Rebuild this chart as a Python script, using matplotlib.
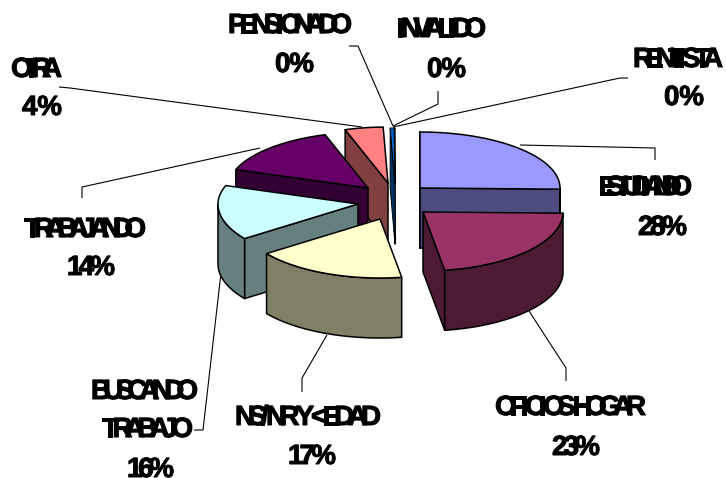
import numpy as np
import matplotlib
matplotlib.use("Agg")
import matplotlib.pyplot as plt
import matplotlib.text as mtext
import matplotlib.patheffects as pe
from matplotlib.patches import Polygon
from matplotlib.transforms import Bbox, IdentityTransform

# ---- data ----
categories = ["ESTUDIANDO", "OFICIOS HOGAR", "NS/NR Y <EDAD", "BUSCANDO\nTRABAJO", "TRABAJANDO",
              "OTRA", "PENSIONADO", "INVALIDO", "RENTISTA"]
percent_labels = ["28%", "23%", "17%", "16%", "14%", "4%", "0%", "0%", "0%"]
slice_shares = [25.3, 22.2, 17.5, 15.3, 14.7, 4.4, 0.45, 0.05, 0.05]

# ---- styles and layout (pixels of the 726x478 canvas) ----
top_colors = ["#9999FF", "#993366", "#FFFFCC", "#CCFFFF", "#660066", "#FF8080", "#0066CC", "#CCCCFF", "#000080"]
side_colors = ["#4C4C80", "#4D1A33", "#808066", "#668080", "#330033", "#804040", "#003366", "#666680", "#000040"]
explode_x = [29, 32, -11, -33, -23, -3, 4, 4, 4]
explode_y = [-2, 22, 29, 14, -2, -7, -6, -6, -6]
draw_order = [8, 7, 6, 5, 4, 0, 3, 2, 1]
CX, CY, RX, RY_BACK, RY_FRONT, DEPTH = 391, 190, 140, 56, 59, 60

# name lines: (left, right, baseline) per line of each category
name_boxes = [[(598, 692, 195)], [(495, 646, 415)], [(235, 381, 425)],
              [(91, 198, 399), (102, 193, 437)], [(24, 146, 237)],
              [(11, 62, 77)], [(228, 352, 33)], [(396, 486, 37)], [(633, 723, 67)]]
pct_boxes = [(638, 687, 235), (552, 600, 455), (288, 336, 464), (127, 174, 477), (67, 115, 275),
             (22, 62, 115), (275, 314, 72), (427, 466, 77), (664, 704, 105)]
leaders = [[(520, 145), (655, 148), (655, 160)],
           [(529, 311), (566, 368), (566, 381)],
           [(327, 335), (302, 378), (302, 392)],
           [(221, 273), (203, 430), (194, 430)],
           [(260, 148), (82, 187), (82, 198)],
           [(59, 87), (70, 88), (362, 127)],
           [(349, 46), (358, 46), (393, 126)],
           [(438, 91), (438, 104), (393, 126)],
           [(628, 78), (620, 78), (393, 127)]]

FONT = dict(family="Liberation Sans", weight="bold", size=20)


class FittedText(mtext.Text):
    """One text whose glyphs are packed tightly to fill a given pixel width."""

    def __init__(self, x, y, s, fit_width, **kw):
        super().__init__(x, y, s, **kw)
        self.fit_width = fit_width

    def _layout_chars(self, renderer):
        fp = self.get_fontproperties()
        s = self.get_text()
        w = []
        for ch in s:
            probe = "n" if ch == " " else ch
            wi = renderer.get_text_width_height_descent(probe, fp, False)[0]
            w.append(wi * 0.25 if ch == " " else wi)
        w = np.array(w, float)
        adv = np.concatenate([[0.0], np.cumsum(w[:-1])])
        k = (self.fit_width - w[-1]) / max(adv[-1], 1.0)
        return adv * k

    def get_window_extent(self, renderer=None, dpi=None):
        px, py = self.get_transform().transform(self.get_position())
        return Bbox.from_extents(px, py, px + self.fit_width, py + 20)

    def draw(self, renderer):
        if not self.get_visible():
            return
        px, py = self.get_transform().transform(self.get_position())
        for ch, off in zip(self.get_text(), self._layout_chars(renderer)):
            if ch == " ":
                continue
            t = mtext.Text(px + off, py, ch, color=self.get_color(), va="baseline", ha="left",
                           fontproperties=self.get_fontproperties(), transform=IdentityTransform(),
                           path_effects=[pe.withStroke(linewidth=0.7, foreground="black")])
            t.set_figure(self.get_figure())
            t.draw(renderer)


fig = plt.figure(figsize=(7.26, 4.78), dpi=100, facecolor="white")
ax = fig.add_axes([0, 0, 1, 1])
ax.set_xlim(0, 726)
ax.set_ylim(478, 0)
ax.axis("off")


def rim(deg, ax0, ay0):
    a = np.radians(deg)
    c = np.cos(a)
    return np.column_stack([ax0 + RX * np.sin(a), ay0 - np.where(c > 0, RY_BACK, RY_FRONT) * c])


def face(pts, color, z, lw=1.1):
    ax.add_patch(Polygon(pts, closed=True, facecolor=color, edgecolor="black",
                         linewidth=lw, joinstyle="round", zorder=z))


edges = np.concatenate([[0], np.cumsum(slice_shares)]) / sum(slice_shares) * 360

for z, i in enumerate(draw_order):
    t0, t1 = edges[i], edges[i + 1]
    x0, y0 = CX + explode_x[i], CY + explode_y[i]
    base = 3 * z + 2
    lw = 0.7 if slice_shares[i] < 1 else 1.1
    apex = np.array([[x0, y0]])
    for theta, shown in ((t0, np.sin(np.radians(t0)) <= 1e-9), (t1, np.sin(np.radians(t1)) > 0)):
        if shown:
            p = rim(np.array([theta]), x0, y0)
            quad = np.vstack([apex, p, p + [0, DEPTH], apex + [0, DEPTH]])
            face(quad, side_colors[i], base, lw)
    lo, hi = max(t0, 90), min(t1, 270)
    if hi > lo:
        arc = rim(np.linspace(lo, hi, 40), x0, y0)
        face(np.vstack([arc, (arc + [0, DEPTH])[::-1]]), side_colors[i], base + 1, lw)
    top = rim(np.linspace(t0, t1, 60), x0, y0)
    face(np.vstack([apex, top]), top_colors[i], base + 2, lw)

for path in leaders:
    xs, ys = zip(*path)
    ax.plot(xs, ys, color="black", lw=0.8, zorder=1, solid_capstyle="butt")

for name, boxes, pct, pbox in zip(categories, name_boxes, percent_labels, pct_boxes):
    for line, (l, r, b) in zip(name.split("\n"), boxes):
        ax.add_artist(FittedText(l, b, line, r - l, color="black", va="baseline",
                                 transform=ax.transData, **FONT))
    l, r, b = pbox
    ax.add_artist(FittedText(l, b, pct, r - l, color="black", va="baseline",
                             transform=ax.transData, **FONT))

fig.savefig("out.png", dpi=100)
